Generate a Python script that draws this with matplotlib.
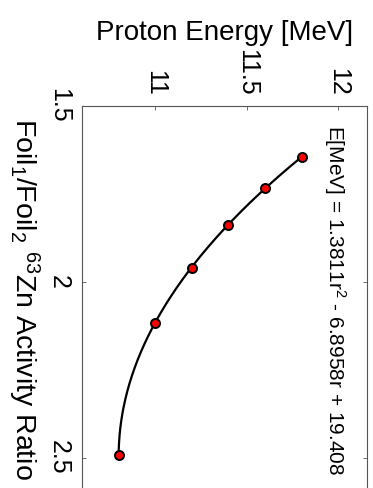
import numpy as np
import matplotlib
matplotlib.use("Agg")
import matplotlib.pyplot as plt

# ---- data ----
ratio = [1.647, 1.733, 1.839, 1.960, 2.117, 2.493]      # Foil1/Foil2 63Zn activity ratio
energy = [11.8, 11.6, 11.4, 11.2, 11.0, 10.8]           # proton energy [MeV]
fit_coef = [1.3811, -6.8958, 19.408]                    # E = a r^2 + b r + c
energy_ticks = [11, 11.5, 12]
energy_ticklabels = ["11", "11.5", "12"]
ratio_ticks = [1.5, 2, 2.5]
ratio_ticklabels = ["1.5", "2", "2.5"]
xlabel_text = "Proton Energy [MeV]"
ylabel_text = r"Foil$_1$/Foil$_2$ $^{63}$Zn Activity Ratio"
fit_text = r"E[MeV] = 1.3811r$^2$ - 6.8958r + 19.408"

plt.rcParams["font.family"] = ["Liberation Sans", "DejaVu Sans"]
plt.rcParams["mathtext.fontset"] = "custom"
plt.rcParams["mathtext.rm"] = "Liberation Sans"
plt.rcParams["mathtext.it"] = "Liberation Sans"
plt.rcParams["mathtext.bf"] = "Liberation Sans:bold"

W, H = 373, 488
fig = plt.figure(figsize=(W / 100, H / 100), dpi=100)

left_px, right_px, top_px, bottom_px = 82, 366.5, 105.7, 492.8
ax = fig.add_axes([left_px / W, 1 - bottom_px / H,
                   (right_px - left_px) / W, (bottom_px - top_px) / H])

r_fit = np.linspace(min(ratio), max(ratio), 300)
e_fit = np.polyval(fit_coef, r_fit)
ax.plot(e_fit, r_fit, color="black", lw=1.6, zorder=2)
ax.plot(energy, ratio, linestyle="none", marker="o", markersize=6.5,
        markerfacecolor="#ff0000", markeredgecolor="black",
        markeredgewidth=1.4, zorder=3)

ax.set_xlim(10.6, 12.155)
ax.set_ylim(2.6, 1.5)

ax.set_xticks(energy_ticks)
ax.set_xticklabels(energy_ticklabels, rotation=-90)
ax.set_yticks(ratio_ticks)
ax.set_yticklabels(ratio_ticklabels, rotation=-90, va="center")

ax.tick_params(axis="both", which="both", direction="in", length=3,
               width=0.6, color="#555555", labelsize=18, labelcolor="black",
               top=True, bottom=True, left=True, right=True,
               labeltop=True, labelbottom=False, labelleft=True,
               labelright=False)
ax.tick_params(axis="x", pad=7)
ax.tick_params(axis="y", pad=8)

for sp in ax.spines.values():
    sp.set_color("#555555")
    sp.set_linewidth(0.8)

# labels (figure rotated clockwise as in the reference)
fig.text((left_px + right_px) / 2 / W, 1 - 40 / H, xlabel_text,
         ha="center", va="baseline", fontsize=20)
fig.text(24 / W, 1 - 299 / H, ylabel_text,
         rotation=-90, ha="center", va="center", fontsize=20.5)

ax.text((328 - left_px) / (right_px - left_px),
        1 - (125 - top_px) / (bottom_px - top_px),
        fit_text, rotation=-90, rotation_mode="anchor",
        ha="left", va="baseline", fontsize=15, transform=ax.transAxes)

fig.savefig("out.png", dpi=100)
